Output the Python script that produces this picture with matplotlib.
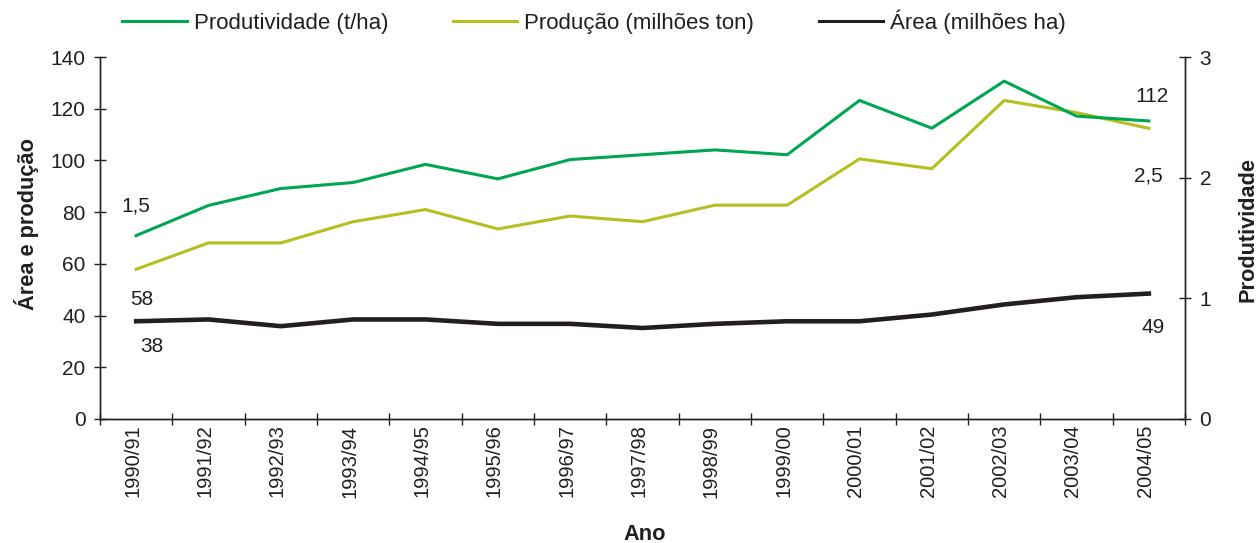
import numpy as np
import matplotlib.pyplot as plt

plt.rcParams['font.family'] = ['Liberation Sans', 'DejaVu Sans']

# data
anos = ["1990/91", "1991/92", "1992/93", "1993/94", "1994/95", "1995/96", "1996/97",
        "1997/98", "1998/99", "1999/00", "2000/01", "2001/02", "2002/03", "2003/04", "2004/05"]
produtividade = [1.52, 1.77, 1.91, 1.96, 2.11, 1.99, 2.15, 2.19, 2.23, 2.19, 2.64, 2.41, 2.80, 2.51, 2.47]
producao = [57.9, 68.1, 68.1, 76.3, 81.0, 73.5, 78.5, 76.3, 82.7, 82.7, 100.6, 96.8, 123.2, 118.5, 112.4]
area = [37.8, 38.5, 35.9, 38.5, 38.5, 36.8, 36.8, 35.2, 36.8, 37.8, 37.8, 40.4, 44.3, 47.1, 48.5]

verde = "#00A651"
amarelo = "#B5BF1F"
preto = "#231F20"

fig = plt.figure(figsize=(12.58, 5.43), dpi=100)
ax = fig.add_axes([100/1258, 1-419/543, (1185-100)/1258, (419-57)/543])
ax2 = ax.twinx()

x = np.arange(len(anos))
l2, = ax.plot(x, producao, color=amarelo, lw=2.2)
l3, = ax.plot(x, area, color=preto, lw=3.3)
l1, = ax2.plot(x, produtividade, color=verde, lw=2.2)

ax.set_xlim(-0.5, len(anos) - 0.5)
ax.set_ylim(0, 140)
ax.set_yticks(range(0, 141, 20))
ax2.set_ylim(0, 3)
ax2.set_yticks([0, 1, 2, 3])

# ticks at category borders, labels at the centres
ax.set_xticks(np.arange(-0.5, len(anos), 1))
ax.set_xticklabels([])
ax.set_xticks(x - 0.05, minor=True)
ax.set_xticklabels(anos, minor=True, rotation=90, fontsize=14.5, color=preto)
ax.tick_params(axis='x', which='minor', length=0, pad=4)
ax.tick_params(axis='x', which='major', direction='inout', length=9, width=1, color=preto)
ax.tick_params(axis='y', direction='inout', length=9, width=1, labelsize=15, pad=6,
               color=preto, labelcolor=preto)
ax2.tick_params(axis='y', direction='inout', length=9, width=1, labelsize=15, pad=6,
                color=preto, labelcolor=preto)

for a in (ax, ax2):
    a.spines['top'].set_visible(False)
    for s in ('left', 'right', 'bottom'):
        a.spines[s].set_color(preto)
        a.spines[s].set_linewidth(1)

# value labels
ax.text(0.0, 82.3, "1,5", ha='center', va='center', fontsize=15, color=preto)
ax.text(0.08, 46.2, "58", ha='center', va='center', fontsize=15, color=preto)
ax.text(0.22, 28.1, "38", ha='center', va='center', fontsize=15, color=preto)
ax.text(14.05, 124.9, "112", ha='center', va='center', fontsize=15, color=preto)
ax.text(14.0, 93.9, "2,5", ha='center', va='center', fontsize=15, color=preto)
ax.text(14.06, 35.2, "49", ha='center', va='center', fontsize=15, color=preto)

fig.text(27/1258, 1-224/543, "Área e produção", rotation=90, ha='center', va='center',
         fontsize=15.7, fontweight='bold', color=preto)
fig.text(1248/1258, 1-230/543, "Produtividade", rotation=90, ha='center', va='center',
         fontsize=15.7, fontweight='bold', color=preto)
fig.text(645/1258, 1-535/543, "Ano", ha='center', va='center', fontsize=15.7,
         fontweight='bold', color=preto)

leg = fig.legend([l1, l2, l3], ["Produtividade (t/ha)", "Produção (milhões ton)", "Área (milhões ha)"],
                 loc='center', bbox_to_anchor=(594/1258, 1-22/543), ncol=3, frameon=False,
                 fontsize=16, handlelength=2.9, columnspacing=2.9, handletextpad=0.32)
for t in leg.get_texts():
    t.set_color(preto)
for h in leg.get_lines():
    h.set_linewidth(2.2)

fig.savefig("out.png", dpi=100)
